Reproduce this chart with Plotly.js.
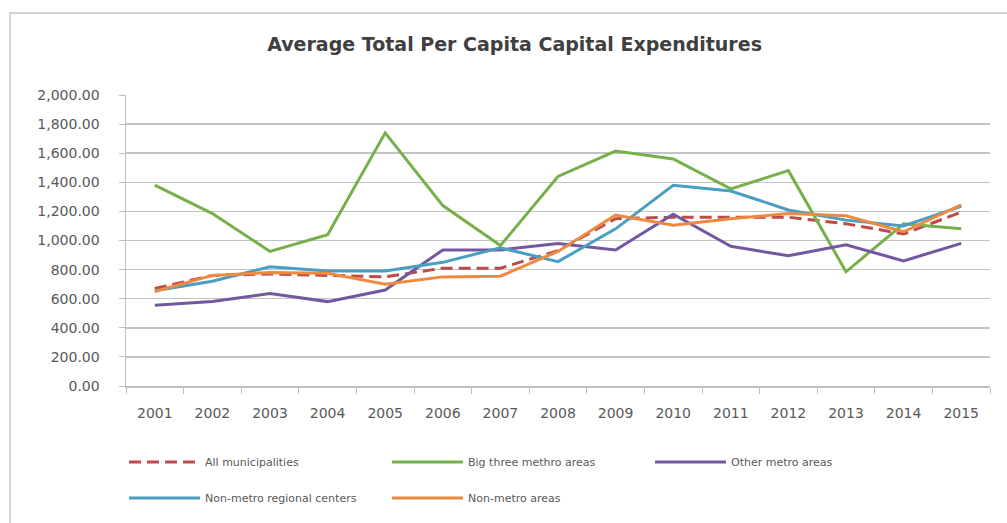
<!DOCTYPE html>
<html>
<head>
<meta charset="utf-8">
<script src="https://cdn.plot.ly/plotly-3.0.1.min.js"></script>
<style>
  html, body { margin: 0; padding: 0; background: #fff; }
  #frame { position: absolute; left: 9px; top: 12px; width: 1100px; height: 600px;
           border-left: 2px solid #d4d4d4; border-top: 2px solid #d4d4d4; }
  #chart { position: absolute; left: 0; top: 0; width: 1007px; height: 523px; }
</style>
</head>
<body>
<div id="frame"></div>
<div id="chart"></div>
<script>
const years = ["2001","2002","2003","2004","2005","2006","2007","2008","2009","2010","2011","2012","2013","2014","2015"];
const allMunicipalities = [670, 760, 770, 760, 750, 810, 810, 930, 1150, 1160, 1160, 1160, 1115, 1045, 1195];
const bigThreeMetro    = [1380, 1185, 925, 1040, 1740, 1240, 965, 1440, 1615, 1560, 1355, 1480, 785, 1115, 1080];
const otherMetro       = [555, 580, 635, 580, 660, 935, 935, 980, 935, 1180, 960, 895, 970, 860, 980];
const nonMetroRegional = [655, 720, 820, 790, 790, 850, 950, 855, 1080, 1380, 1340, 1210, 1140, 1100, 1235];
const nonMetroAreas    = [650, 760, 780, 775, 700, 750, 755, 925, 1175, 1105, 1150, 1185, 1170, 1060, 1245];

const font = "'DejaVu Sans', 'Open Sans', sans-serif";

const traces = [
  {name: "All municipalities", y: allMunicipalities, color: "#BE4B48", dash: "12px,6px", legend: "legend"},
  {name: "Big three methro areas", y: bigThreeMetro, color: "#77B04A", dash: "solid", legend: "legend"},
  {name: "Other metro areas", y: otherMetro, color: "#7358A0", dash: "solid", legend: "legend"},
  {name: "Non-metro regional centers", y: nonMetroRegional, color: "#4A9EC2", dash: "solid", legend: "legend2"},
  {name: "Non-metro areas", y: nonMetroAreas, color: "#EE8A40", dash: "solid", legend: "legend2"}
].map(t => ({
  type: "scatter", mode: "lines", x: years, y: t.y, name: t.name, legend: t.legend,
  line: {color: t.color, width: 3, dash: t.dash}
}));

const legendBase = {
  orientation: "h", x: -0.0023, xanchor: "left", yanchor: "middle",
  entrywidth: 177, entrywidthmode: "pixels", itemwidth: 71,
  font: {size: 11, color: "#595959", family: font}, traceorder: "normal",
  bgcolor: "rgba(0,0,0,0)"
};

const layout = {
  width: 1007, height: 523,
  paper_bgcolor: "rgba(0,0,0,0)", plot_bgcolor: "rgba(0,0,0,0)",
  margin: {l: 126, r: 17, t: 95, b: 136},
  font: {family: font, color: "#595959", size: 14},
  title: {text: "Average Total Per Capita Capital Expenditures",
          x: 0.511, xanchor: "center", y: 0.915, yanchor: "middle",
          font: {family: font, size: 19, color: "#404040", weight: 600}},
  xaxis: {type: "category", showgrid: false, showline: true, linecolor: "#bfbfbf", linewidth: 1.5,
          ticks: "outside", tickson: "boundaries", ticklen: 6, tickcolor: "#bfbfbf",
          ticklabelstandoff: 14,
          tickfont: {size: 14, color: "#595959"}, range: [-0.5, 14.5]},
  yaxis: {range: [0, 2000], dtick: 200, tickformat: ",.2f", showgrid: true, gridcolor: "#c3c3c3", gridwidth: 1.5,
          showline: true, linecolor: "#bfbfbf", linewidth: 1.5, ticks: "outside", ticklen: 6, tickcolor: "#bfbfbf",
          ticklabelstandoff: 16,
          zeroline: false, tickfont: {size: 14, color: "#595959"}},
  showlegend: true,
  legend: Object.assign({}, legendBase, {y: -0.2568}),
  legend2: Object.assign({}, legendBase, {y: -0.380})
};

Plotly.newPlot("chart", traces, layout, {displayModeBar: false, staticPlot: true});
</script>
</body>
</html>
